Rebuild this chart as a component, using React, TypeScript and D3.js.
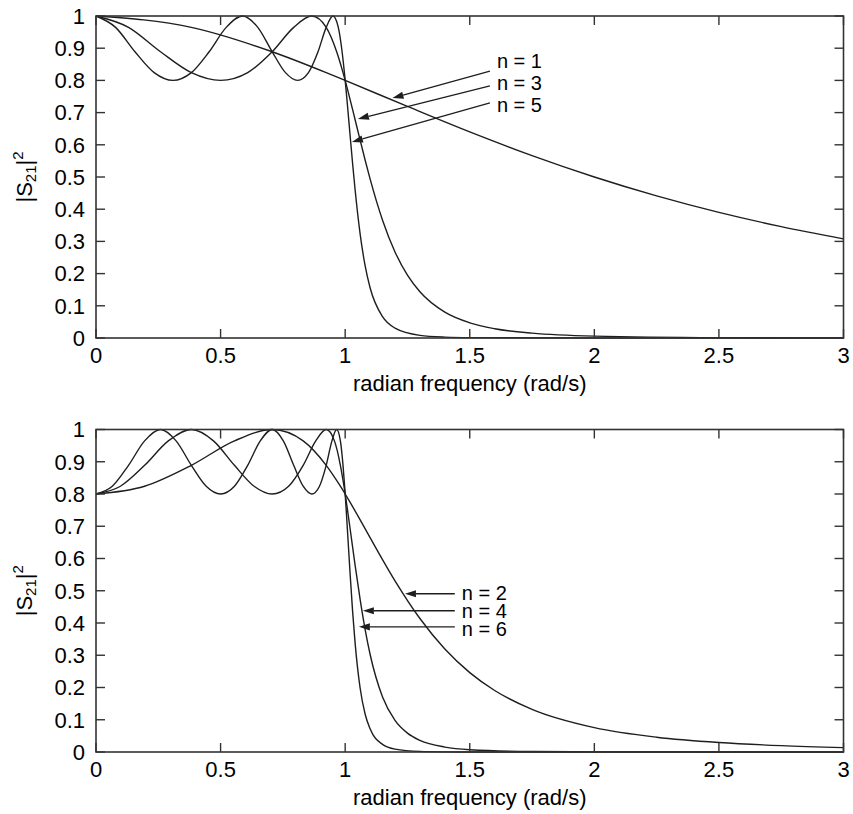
import React from 'react';
import * as d3 from 'd3';

// ---------- tick data ----------
const xTicks = [0, 0.5, 1, 1.5, 2, 2.5, 3];
const xTickLabels = ['0', '0.5', '1', '1.5', '2', '2.5', '3'];
const yTicks = [0, 0.1, 0.2, 0.3, 0.4, 0.5, 0.6, 0.7, 0.8, 0.9, 1];
const yTickLabels = ['0', '0.1', '0.2', '0.3', '0.4', '0.5', '0.6', '0.7', '0.8', '0.9', '1'];
const xTitle = 'radian frequency (rad/s)';

// ---------- series ----------
const w1 = [0, 0.3827, 0.7071, 0.9239, 1, 1.25, 1.5, 1.75, 2, 2.25, 2.5, 2.75, 3];
const s1 = [1, 0.9647, 0.8889, 0.8241, 0.8, 0.7191, 0.64, 0.5664, 0.5, 0.4414, 0.3902, 0.3459, 0.3077];

const w3 = [0, 0.1305, 0.2588, 0.3827, 0.5, 0.6088, 0.7071, 0.7934, 0.866, 0.9239, 0.9659, 0.9914, 1,
  1.01, 1.03, 1.05, 1.08, 1.1, 1.15, 1.2, 1.25, 1.3, 1.4, 1.5, 1.6, 1.75, 2, 2.5, 3];
const s3 = [1, 0.9647, 0.8889, 0.8241, 0.8, 0.8241, 0.8889, 0.9647, 1, 0.9647, 0.8889, 0.8241, 0.8,
  0.7706, 0.7091, 0.646, 0.5528, 0.4941, 0.3658, 0.2672, 0.1951, 0.1434, 0.0801, 0.0471, 0.0289, 0.015, 0.0059, 0.0013, 0.0004];

const w5 = [0, 0.0785, 0.1564, 0.2334, 0.309, 0.3827, 0.454, 0.5225, 0.5878, 0.6494, 0.7071, 0.7604, 0.809,
  0.8526, 0.891, 0.9239, 0.9511, 0.9724, 0.9877, 0.9969, 1,
  1.005, 1.01, 1.02, 1.03, 1.04, 1.06, 1.08, 1.1, 1.15, 1.2, 1.3, 1.4, 1.5, 2, 3];
const s5 = [1, 0.9647, 0.8889, 0.8241, 0.8, 0.8241, 0.8889, 0.9647, 1, 0.9647, 0.8889, 0.8241, 0.8,
  0.8241, 0.8889, 0.9647, 1, 0.9647, 0.8889, 0.8241, 0.8,
  0.7588, 0.7158, 0.6275, 0.5405, 0.4595, 0.3236, 0.2247, 0.1562, 0.0662, 0.0306, 0.0082, 0.0027, 0.0011, 0, 0];

const w2 = [0, 0.1951, 0.3827, 0.5556, 0.7071, 0.8315, 0.9239, 0.9808, 1,
  1.02, 1.05, 1.1, 1.2, 1.3, 1.4, 1.5, 1.6, 1.75, 2, 2.25, 2.5, 2.75, 3];
const s2 = [0.8, 0.8241, 0.8889, 0.9647, 1, 0.9647, 0.8889, 0.8241, 0.8,
  0.774, 0.7337, 0.6648, 0.5309, 0.4139, 0.3193, 0.2462, 0.1907, 0.1322, 0.0755, 0.0458, 0.0294, 0.0197, 0.0137];

const w4 = [0, 0.098, 0.1951, 0.2903, 0.3827, 0.4714, 0.5556, 0.6344, 0.7071, 0.773, 0.8315, 0.8819, 0.9239,
  0.9569, 0.9808, 0.9952, 1,
  1.005, 1.01, 1.02, 1.04, 1.06, 1.08, 1.1, 1.15, 1.2, 1.25, 1.3, 1.4, 1.5, 1.75, 2, 3];
const s4 = [0.8, 0.8241, 0.8889, 0.9647, 1, 0.9647, 0.8889, 0.8241, 0.8, 0.8241, 0.8889, 0.9647, 1,
  0.9647, 0.8889, 0.8241, 0.8,
  0.774, 0.747, 0.6914, 0.5788, 0.473, 0.3804, 0.3031, 0.1705, 0.098, 0.0584, 0.0361, 0.0153, 0.0072, 0.0015, 0.0004, 0];

const w6 = [0, 0.0654, 0.1305, 0.1951, 0.2588, 0.3214, 0.3827, 0.4423, 0.5, 0.5556, 0.6088, 0.6593, 0.7071,
  0.7518, 0.7934, 0.8315, 0.866, 0.8969, 0.9239, 0.9469, 0.9659, 0.9808, 0.9914, 0.9979, 1,
  1.005, 1.01, 1.02, 1.03, 1.04, 1.06, 1.08, 1.1, 1.15, 1.2, 1.3, 1.4, 1.5, 3];
const s6 = [0.8, 0.8241, 0.8889, 0.9647, 1, 0.9647, 0.8889, 0.8241, 0.8, 0.8241, 0.8889, 0.9647, 1,
  0.9647, 0.8889, 0.8241, 0.8, 0.8241, 0.8889, 0.9647, 1, 0.9647, 0.8889, 0.8241, 0.8,
  0.7401, 0.677, 0.5504, 0.4346, 0.3369, 0.1985, 0.1179, 0.0718, 0.0236, 0.009, 0.0018, 0.0004, 0, 0];

// ---------- annotations (data units) ----------
const topLabels = ['n = 1', 'n = 3', 'n = 5'];
const topTipW = [1.19, 1.051, 1.027];
const topTipV = [0.745, 0.68, 0.609];
const topTailW = [1.581, 1.581, 1.581];
const topTailV = [0.829, 0.783, 0.73];
const topTextW = [1.609, 1.609, 1.609];
const topTextV = [0.838, 0.77, 0.702];

const botLabels = ['n = 2', 'n = 4', 'n = 6'];
const botTipW = [1.24, 1.071, 1.055];
const botTipV = [0.4907, 0.438, 0.388];
const botTailW = [1.44, 1.44, 1.44];
const botTailV = [0.4907, 0.438, 0.388];
const botTextW = [1.468, 1.468, 1.468];
const botTextV = [0.472, 0.416, 0.36];

const FONT = '"Liberation Sans", Arial, Helvetica, sans-serif';
const INK = '#1e1e1e';
const FS = 22;
const FS_ANN = 20;

type Panel = {
  top: number; bottom: number;
  series: [number[], number[]][];
  labels: string[]; tipW: number[]; tipV: number[]; tailW: number[]; tailV: number[];
  textW: number[]; textV: number[];
};

const X0 = 96, X1 = 843.5;

function PanelView({ p }: { p: Panel }) {
  const x = d3.scaleLinear().domain([0, 3]).range([X0, X1]);
  const y = d3.scaleLinear().domain([0, 1]).range([p.bottom, p.top]);
  const line = d3.line<[number, number]>().x(d => x(d[0])).y(d => y(d[1])).curve(d3.curveMonotoneX);
  const tl = 9;
  return (
    <g>
      {p.series.map(([w, s], i) => (
        <path key={i} d={line(w.map((v, k) => [v, s[k]] as [number, number])) || ''}
          fill="none" stroke={INK} strokeWidth={1.4} />
      ))}
      <rect x={X0} y={p.top} width={X1 - X0} height={p.bottom - p.top} fill="none" stroke="#333" strokeWidth={1.6} />
      {xTicks.map((t, i) => (
        <g key={'x' + i}>
          <line x1={x(t)} x2={x(t)} y1={p.bottom} y2={p.bottom - tl} stroke="#333" strokeWidth={1.4} />
          <line x1={x(t)} x2={x(t)} y1={p.top} y2={p.top + tl} stroke="#333" strokeWidth={1.4} />
          <text x={x(t)} y={p.bottom + 25} textAnchor="middle" fontSize={FS} fontFamily={FONT} fill="#000">{xTickLabels[i]}</text>
        </g>
      ))}
      {yTicks.map((t, i) => (
        <g key={'y' + i}>
          <line x1={X0} x2={X0 + tl} y1={y(t)} y2={y(t)} stroke="#333" strokeWidth={1.4} />
          <line x1={X1} x2={X1 - tl} y1={y(t)} y2={y(t)} stroke="#333" strokeWidth={1.4} />
          <text x={85} y={y(t) + 7.8} textAnchor="end" fontSize={FS} fontFamily={FONT} fill="#000">{yTickLabels[i]}</text>
        </g>
      ))}
      <text x={(X0 + X1) / 2} y={p.bottom + 53} textAnchor="middle" fontSize={FS} fontFamily={FONT} fill="#000">{xTitle}</text>
      <text transform={`translate(32,${(p.top + p.bottom) / 2}) rotate(-90)`} textAnchor="middle" fontSize={FS} fontFamily={FONT} fill="#000">
        |S<tspan fontSize={15} dy={4}>21</tspan><tspan dy={-4}>|</tspan><tspan fontSize={15} dy={-9}>2</tspan>
      </text>
      {p.labels.map((lab, i) => {
        const x1 = x(p.tipW[i]), y1 = y(p.tipV[i]);
        const x2 = x(p.tailW[i]), y2 = y(p.tailV[i]);
        const ang = Math.atan2(y2 - y1, x2 - x1);
        const L = 11, H = 3.6;
        const bx = x1 + L * Math.cos(ang), by = y1 + L * Math.sin(ang);
        const px = -Math.sin(ang) * H, py = Math.cos(ang) * H;
        return (
          <g key={'a' + i}>
            <line x1={bx} y1={by} x2={x2} y2={y2} stroke={INK} strokeWidth={1.3} />
            <path d={`M${x1},${y1}L${bx + px},${by + py}L${bx - px},${by - py}Z`} fill={INK} />
            <text x={x(p.textW[i])} y={y(p.textV[i])} fontSize={FS_ANN} fontFamily={FONT} fill="#000">{lab}</text>
          </g>
        );
      })}
    </g>
  );
}

export default function App() {
  const topPanel: Panel = {
    top: 16, bottom: 338,
    series: [[w1, s1], [w3, s3], [w5, s5]],
    labels: topLabels, tipW: topTipW, tipV: topTipV, tailW: topTailW, tailV: topTailV, textW: topTextW, textV: topTextV,
  };
  const botPanel: Panel = {
    top: 429.5, bottom: 752,
    series: [[w2, s2], [w4, s4], [w6, s6]],
    labels: botLabels, tipW: botTipW, tipV: botTipV, tailW: botTailW, tailV: botTailV, textW: botTextW, textV: botTextV,
  };
  return (
    <svg width={853} height={814} style={{ position: 'absolute', left: 0, top: 0, background: '#fff' }}>
      <rect width={853} height={814} fill="#fff" />
      <PanelView p={topPanel} />
      <PanelView p={botPanel} />
    </svg>
  );
}
